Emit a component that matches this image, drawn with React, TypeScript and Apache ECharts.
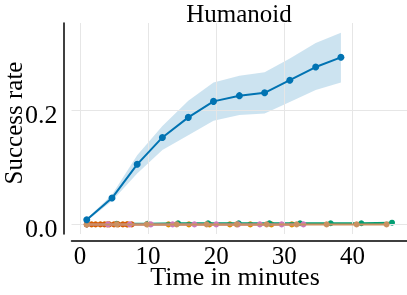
import React, { useEffect, useRef } from 'react';
import * as echarts from 'echarts';

const xTicks = [0, 10, 20, 30, 40];
const yTicks = [0, 0.2];

const blueX = [1, 4.7, 8.4, 12.1, 15.9, 19.6, 23.4, 27.1, 30.8, 34.6, 38.3];
const blueY = [0.008, 0.046, 0.105, 0.152, 0.187, 0.215, 0.225, 0.23, 0.252, 0.275, 0.292];
const blueLo = [0.006, 0.041, 0.089, 0.13, 0.156, 0.181, 0.191, 0.194, 0.214, 0.235, 0.248];
const blueHi = [0.01, 0.052, 0.121, 0.172, 0.216, 0.248, 0.26, 0.266, 0.29, 0.317, 0.335];

const orangeX = [1, 4, 7, 10, 13, 16, 19, 22, 25, 28.1, 31.1];
const orangeY = [0, 0, 0, 0, 0, 0, 0, 0, 0, 0, 0];

const greenX = [1, 5.4, 9.9, 14.4, 18.8, 23.3, 27.8, 32.3, 36.8, 41.3, 45.8];
const greenY = [0, 0.001, 0.001, 0.002, 0.002, 0.002, 0.002, 0.002, 0.002, 0.002, 0.003];

const redX = [1, 1.7, 2.3, 3.0, 3.6, 4.3, 5.0, 5.6, 6.3, 6.9, 7.6];
const redY = [0, 0, 0, 0, 0, 0, 0, 0, 0, 0, 0];

const pinkX = [1, 4.1, 7.3, 10.4, 13.6, 16.8, 20.0, 23.2, 26.4, 29.6, 32.8];
const pinkY = [0, 0, 0, 0, 0, 0, 0, 0, 0, 0, 0];

const tanX = [1, 5.4, 9.8, 14.2, 18.6, 23.0, 27.4, 31.8, 36.2, 40.6, 45.0];
const tanY = [0, 0, 0, 0, 0, 0, 0, 0, 0, 0, 0];

const FONT = 'Liberation Serif';

function pair(xs: number[], ys: number[]) {
  return xs.map((x, i) => [x, ys[i]]);
}

function lineSeries(name: string, color: string, xs: number[], ys: number[], z: number, size = 6) {
  return {
    type: 'line',
    name,
    data: pair(xs, ys),
    symbol: 'circle',
    symbolSize: size,
    showSymbol: true,
    lineStyle: { color, width: 2 },
    itemStyle: { color },
    z,
    silent: true,
  };
}

export default function App() {
  const ref = useRef<HTMLDivElement>(null);
  useEffect(() => {
    const chart = echarts.init(ref.current!, null, { renderer: 'svg' });
    const option: any = {
      animation: false,
      grid: { left: 71.5, right: 0, top: 23, bottom: 61, containLabel: false },
      xAxis: {
        type: 'value',
        min: -1.24,
        max: 48,
        offset: 7,
        axisLine: { show: true, onZero: false, lineStyle: { color: '#000', width: 1.5 } },
        axisTick: { show: false },
        splitLine: { show: false },
        axisLabel: {
          customValues: xTicks,
          formatter: (v: number) => String(v),
          color: '#000',
          fontFamily: FONT,
          fontSize: 25,
          lineHeight: 18,
          margin: 5,
        },
      },
      yAxis: {
        type: 'value',
        min: -0.0168,
        max: 0.352,
        offset: 8,
        axisLine: { show: true, onZero: false, lineStyle: { color: '#000', width: 1.5 } },
        axisTick: { show: false },
        splitLine: { show: false },
        axisLabel: {
          customValues: yTicks,
          formatter: (v: number) => v.toFixed(1),
          color: '#000',
          fontFamily: FONT,
          fontSize: 26,
          margin: 6,
          verticalAlign: 'top',
          lineHeight: 9,
        },
      },
      graphic: [
        {
          type: 'text',
          x: 239,
          y: 13.5,
          style: { text: 'Humanoid', fontFamily: FONT, fontSize: 25, lineHeight: 20, fill: '#000', textAlign: 'center', textVerticalAlign: 'middle' },
        },
        {
          type: 'text',
          x: 235,
          y: 276,
          style: { text: 'Time in minutes', fontFamily: FONT, fontSize: 26, lineHeight: 16, fill: '#000', textAlign: 'center', textVerticalAlign: 'middle' },
        },
        {
          type: 'text',
          x: 13,
          y: 123,
          rotation: Math.PI / 2,
          style: { text: 'Success rate', fontFamily: FONT, fontSize: 25, fill: '#000', textAlign: 'center', textVerticalAlign: 'middle' },
        },
      ],
      series: [
        {
          type: 'line',
          name: 'grid',
          data: [],
          z: 0,
          silent: true,
          markLine: {
            silent: true,
            symbol: ['none', 'none'],
            label: { show: false },
            lineStyle: { color: '#e6e6e6', width: 1, type: 'solid' },
            data: [...xTicks.map((v) => ({ xAxis: v })), ...yTicks.map((v) => ({ yAxis: v }))],
          },
        },
        {
          type: 'custom',
          name: 'band',
          z: 1,
          silent: true,
          data: [[blueX[0], blueLo[0]]],
          renderItem: (_params: any, api: any) => {
            const pts: number[][] = [];
            for (let i = 0; i < blueX.length; i++) pts.push(api.coord([blueX[i], blueHi[i]]));
            for (let i = blueX.length - 1; i >= 0; i--) pts.push(api.coord([blueX[i], blueLo[i]]));
            return { type: 'polygon', shape: { points: pts }, style: { fill: 'rgba(1,115,178,0.2)' } };
          },
        },
        lineSeries('blue', '#0173b2', blueX, blueY, 8, 7),
        lineSeries('orange', '#de8f05', orangeX, orangeY, 3),
        lineSeries('green', '#029e73', greenX, greenY, 4),
        lineSeries('red', '#d55e00', redX, redY, 5),
        lineSeries('pink', '#cc78bc', pinkX, pinkY, 6),
        lineSeries('tan', '#ca9161', tanX, tanY, 7),
      ],
    };
    chart.setOption(option);
    return () => chart.dispose();
  }, []);
  return <div ref={ref} style={{ position: 'fixed', left: 0, top: 0, width: 407, height: 295 }} />;
}
